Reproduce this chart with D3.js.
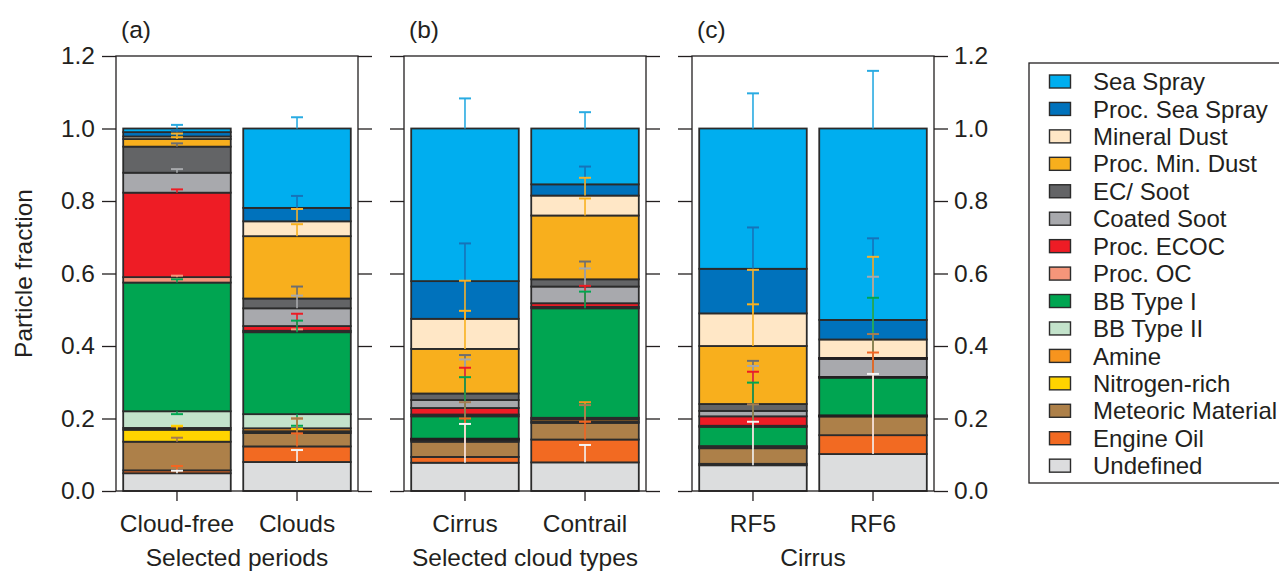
<!DOCTYPE html>
<html>
<head>
<meta charset="utf-8">
<script src="https://cdn.jsdelivr.net/npm/d3@7"></script>
<style>
  body { margin: 0; background: #fff; }
  text { font-family: "Liberation Sans", Arial, Helvetica, sans-serif; fill: #231f20; }
</style>
</head>
<body>
<svg id="chart" width="1279" height="571"></svg>
<script>
// Particle classes, stacked from the bottom of each bar upward
const categories = ["Undefined", "Engine Oil", "Meteoric Material", "Nitrogen-rich", "Amine",
  "BB Type II", "BB Type I", "Proc. OC", "Proc. ECOC", "Coated Soot", "EC/ Soot",
  "Proc. Min. Dust", "Mineral Dust", "Proc. Sea Spray", "Sea Spray"];
const fillColors = ["#dcddde", "#f26a22", "#ad8049", "#ffd400", "#f7941e",
  "#c3e3cb", "#00a551", "#f5967a", "#ee1c25", "#a8a9ad", "#636466",
  "#f8af1d", "#ffe7c6", "#0072bc", "#00aeef"];
const whiskerColors = ["#f4f4f4", "#f26522", "#a67c52", "#ffd200", "#f7941d",
  "#00a651", "#00a651", "#f69679", "#ed1c24", "#a7a9ac", "#6d6e71",
  "#f9b11f", "#f3b12e", "#1673b9", "#29abe2"];

// Bar names per panel
const panelTags = ["(a)", "(b)", "(c)"];
const panelTitles = ["Selected periods", "Selected cloud types", "Cirrus"];
const panelBars = [["Cloud-free", "Clouds"], ["Cirrus", "Contrail"], ["RF5", "RF6"]];

// Number fractions (same order as categories)
const cloudFree = [0.049, 0.008, 0.079, 0.033, 0.005, 0.046, 0.355, 0.015, 0.233, 0.055, 0.072, 0.021, 0.007, 0.012, 0.010];
const clouds    = [0.080, 0.043, 0.037, 0.005, 0.008, 0.039, 0.226, 0.004, 0.013, 0.049, 0.027, 0.172, 0.041, 0.037, 0.219];
const cirrus    = [0.078, 0.016, 0.042, 0.004, 0.003, 0.000, 0.063, 0.005, 0.018, 0.022, 0.018, 0.123, 0.083, 0.104, 0.421];
const contrail  = [0.079, 0.063, 0.046, 0.004, 0.006, 0.004, 0.302, 0.004, 0.010, 0.046, 0.020, 0.176, 0.055, 0.031, 0.154];
const rf5       = [0.071, 0.004, 0.043, 0.002, 0.002, 0.002, 0.053, 0.003, 0.026, 0.015, 0.019, 0.160, 0.090, 0.123, 0.387];
const rf6       = [0.102, 0.052, 0.053, 0.000, 0.000, 0.000, 0.107, 0.000, 0.000, 0.052, 0.000, 0.000, 0.052, 0.054, 0.528];

// Uncertainties, drawn from the top of each segment (BB Type II whiskers point down)
const cloudFreeErr = [0.007, 0.012, 0.011, 0.011, 0.004, -0.008, 0.009, 0.004, 0.009, 0.010, 0.009, 0.005, 0.008, 0.004, 0.010];
const cloudsErr    = [0.033, 0.036, 0.040, 0.006, 0.027, -0.032, 0.032, 0.004, 0.034, 0.035, 0.033, 0.033, 0.034, 0.033, 0.031];
const cirrusErr    = [0.107, 0.106, 0.109, 0.000, 0.000, 0.000, 0.108, 0.000, 0.111, 0.112, 0.106, 0.105, 0.105, 0.104, 0.083];
const contrailErr  = [0.048, 0.049, 0.049, 0.000, 0.047, 0.000, 0.046, 0.000, 0.048, 0.050, 0.049, 0.047, 0.049, 0.049, 0.045];
const rf5Err       = [0.120, 0.000, 0.121, 0.000, 0.000, 0.000, 0.122, 0.000, 0.123, 0.124, 0.119, 0.115, 0.120, 0.114, 0.097];
const rf6Err       = [0.221, 0.228, 0.226, 0.000, 0.000, 0.000, 0.219, 0.000, 0.000, 0.225, 0.000, 0.000, 0.228, 0.225, 0.159];

const yTicks = [0, 0.2, 0.4, 0.6, 0.8, 1.0, 1.2];

const barData = {
  "Cloud-free": { values: cloudFree, errors: cloudFreeErr },
  "Clouds":     { values: clouds,    errors: cloudsErr },
  "Cirrus":     { values: cirrus,    errors: cirrusErr },
  "Contrail":   { values: contrail,  errors: contrailErr },
  "RF5":        { values: rf5,       errors: rf5Err },
  "RF6":        { values: rf6,       errors: rf6Err }
};

const svg = d3.select("#chart");
const ink = "#231f20";
const fontSize = 24.5;
const legendFontSize = 24;
const plotTop = 56, plotBottom = 491;
const panelW = 242, panelLeft0 = 116, panelStep = 288;

const y = d3.scaleLinear().domain([0, 1.2]).range([plotBottom, plotTop]);

panelBars.forEach((bars, pi) => {
  const x0 = panelLeft0 + pi * panelStep;
  const g = svg.append("g").attr("transform", `translate(${x0},0)`);
  const x = d3.scaleBand().domain(bars).range([0, panelW]).paddingInner(0.104).paddingOuter(0.06);

  // stacked bars
  bars.forEach(name => {
    const { values, errors } = barData[name];
    const tops = d3.cumsum(values);
    const segs = values.map((v, i) => ({ i, v, y0: tops[i] - v, y1: tops[i], err: errors[i] }));
    const bx = x(name), bw = x.bandwidth();
    const bg = g.append("g");

    bg.selectAll("rect.seg").data(segs.filter(s => s.v > 0)).join("rect")
      .attr("class", "seg")
      .attr("x", bx).attr("width", bw)
      .attr("y", s => y(s.y1)).attr("height", s => y(s.y0) - y(s.y1))
      .attr("fill", s => fillColors[s.i])
      .attr("stroke", "#2b2b2b").attr("stroke-width", 1.8);

    // empty classes leave a dark seam between neighbouring segments
    bg.selectAll("line.seam").data(segs.filter(s => s.v === 0)).join("line")
      .attr("class", "seam")
      .attr("x1", bx - 1).attr("x2", bx + bw + 1)
      .attr("y1", s => y(s.y1)).attr("y2", s => y(s.y1))
      .attr("stroke", ink).attr("stroke-width", 2.6);

    // whiskers, top class first so the lower classes sit on top
    const cx = bx + bw / 2;
    const wsk = segs.filter(s => s.v > 0 && s.err !== 0).reverse();
    const wg = bg.selectAll("g.wsk").data(wsk).join("g").attr("class", "wsk");
    wg.append("line")
      .attr("x1", cx).attr("x2", cx)
      .attr("y1", s => y(s.y1)).attr("y2", s => y(s.y1 + s.err))
      .attr("stroke", s => whiskerColors[s.i]).attr("stroke-width", 1.6);
    wg.append("line")
      .attr("x1", cx - 6).attr("x2", cx + 6)
      .attr("y1", s => y(s.y1 + s.err)).attr("y2", s => y(s.y1 + s.err))
      .attr("stroke", s => whiskerColors[s.i]).attr("stroke-width", 2);
  });

  // frame
  g.append("rect").attr("x", 0).attr("y", plotTop).attr("width", panelW).attr("height", plotBottom - plotTop)
    .attr("fill", "none").attr("stroke", ink).attr("stroke-width", 1.3);

  // y axes on both sides of each panel
  const left = d3.axisLeft(y).tickValues(yTicks).tickSize(14).tickPadding(7)
    .tickFormat(pi === 0 ? d3.format(".1f") : () => "");
  const right = d3.axisRight(y).tickValues(yTicks).tickSize(14).tickPadding(6)
    .tickFormat(pi === 2 ? d3.format(".1f") : () => "");
  [[left, 0], [right, panelW]].forEach(([ax, tx]) => {
    const a = g.append("g").attr("transform", `translate(${tx},0)`).call(ax);
    a.select(".domain").remove();
    a.selectAll("line").attr("stroke", ink).attr("stroke-width", 1.3);
    a.selectAll("text").style("font-size", fontSize + "px").attr("fill", ink);
  });

  // x axis
  const xa = g.append("g").attr("transform", `translate(0,${plotBottom})`)
    .call(d3.axisBottom(x).tickSize(10).tickPadding(14));
  xa.select(".domain").remove();
  xa.selectAll("line").attr("stroke", ink).attr("stroke-width", 1.3);
  xa.selectAll("text").style("font-size", fontSize + "px").attr("fill", ink);

  g.append("text").attr("x", panelW / 2).attr("y", 566).attr("text-anchor", "middle")
    .style("font-size", fontSize + "px").text(panelTitles[pi]);
  g.append("text").attr("x", 5).attr("y", 38)
    .style("font-size", fontSize + "px").text(panelTags[pi]);
});

// y-axis title
svg.append("text")
  .attr("transform", `translate(32,${(plotTop + plotBottom) / 2}) rotate(-90)`)
  .attr("text-anchor", "middle")
  .style("font-size", fontSize + "px")
  .text("Particle fraction");

// legend, top class first
const legend = svg.append("g").attr("transform", "translate(1029,63)");
legend.append("rect").attr("width", 270).attr("height", 420)
  .attr("fill", "#fff").attr("stroke", ink).attr("stroke-width", 1.3);
const legendItems = categories.map((c, i) => ({ c, i })).reverse();
const li = legend.selectAll("g.item").data(legendItems).join("g").attr("class", "item")
  .attr("transform", (d, k) => `translate(0,${18.5 + k * 27.44})`);
li.append("rect").attr("x", 20.5).attr("y", -6.5).attr("width", 21).attr("height", 13)
  .attr("fill", d => fillColors[d.i]).attr("stroke", "#2b2b2b").attr("stroke-width", 1.4);
li.append("text").attr("x", 64).attr("dy", "0.36em")
  .style("font-size", legendFontSize + "px").text(d => d.c);
</script>
</body>
</html>
